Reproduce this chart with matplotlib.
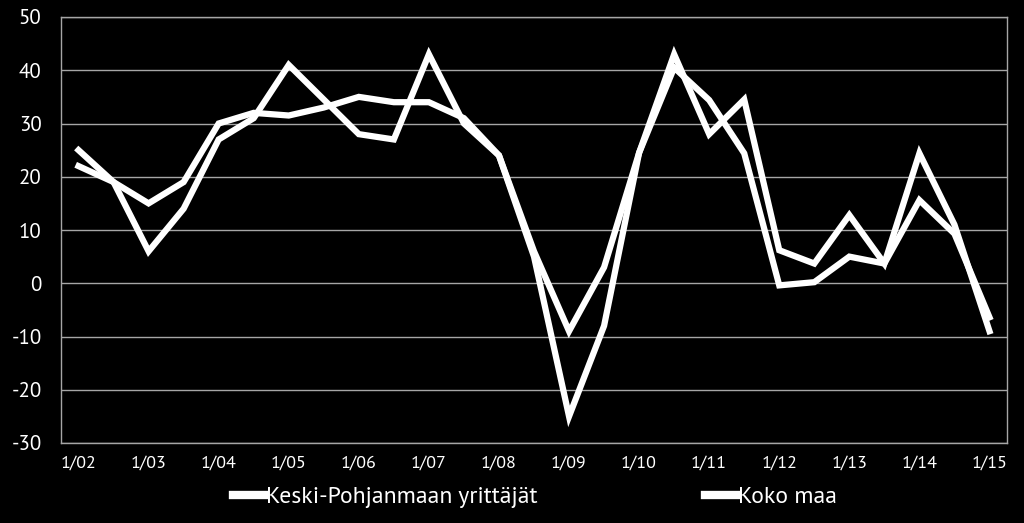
import numpy as np
import matplotlib
matplotlib.use("Agg")
import matplotlib.pyplot as plt
from matplotlib.lines import Line2D

plt.rcParams['font.family'] = ['PT Sans', 'DejaVu Sans']

# half-year observations 1/02 .. 1/15
periods = ["1/02", "7/02", "1/03", "7/03", "1/04", "7/04", "1/05", "7/05",
           "1/06", "7/06", "1/07", "7/07", "1/08", "7/08", "1/09", "7/09",
           "1/10", "7/10", "1/11", "7/11", "1/12", "7/12", "1/13", "7/13",
           "1/14", "7/14", "1/15"]
keski_pohjanmaa = [25, 19, 6, 14, 27, 31, 41, 34.5, 28, 27, 43, 30, 24, 5,
                   -25, -8, 24.5, 43, 28, 34.5, 6.2, 3.7, 12.8, 3.7, 24.4, 11, -9]
koko_maa = [22, 19, 15, 19, 30, 32, 31.5, 33, 35, 34, 34, 31, 24, 6,
            -9, 3, 24.5, 40.5, 34.4, 24.4, -0.4, 0.2, 5, 3.7, 15.6, 9.3, -6.4]
legend_names = ["Keski-Pohjanmaan yrittäjät", "Koko maa"]

fig = plt.figure(figsize=(10.24, 5.23), dpi=100, facecolor="black")
ax = fig.add_axes([61/1024, 1-443/523, 946/1024, 426/523], facecolor="black")

x = np.arange(len(periods))
ax.plot(x, keski_pohjanmaa, color="white", lw=4.5, solid_joinstyle="miter", zorder=3)
ax.plot(x, koko_maa, color="white", lw=4.5, solid_joinstyle="miter", zorder=3)

ax.set_xlim(-0.5, len(periods) - 0.5)
ax.set_ylim(-30, 50)
ax.set_yticks(range(-30, 51, 10))
ax.set_yticklabels([str(v) for v in range(-30, 51, 10)], color="white", fontsize=15)
ax.set_xticks(x[::2])
ax.set_xticklabels(periods[::2], color="white", fontsize=13)
ax.tick_params(axis="both", length=0)
ax.tick_params(axis="y", pad=14)
ax.tick_params(axis="x", pad=9)
ax.grid(axis="y", color="#a6a6a6", lw=1)
ax.set_axisbelow(True)
for s in ax.spines.values():
    s.set_color("#a6a6a6")
    s.set_linewidth(1)

handles = [Line2D([0], [0], color="white", lw=6) for _ in legend_names]
leg = fig.legend(handles, legend_names, loc="center", bbox_to_anchor=(535/1024, 1-497/523),
                 ncol=2, frameon=False, fontsize=17, handlelength=1.35,
                 handletextpad=0.05, columnspacing=7.1)
for t in leg.get_texts():
    t.set_color("white")

fig.savefig("out.png", dpi=100, facecolor="black")
